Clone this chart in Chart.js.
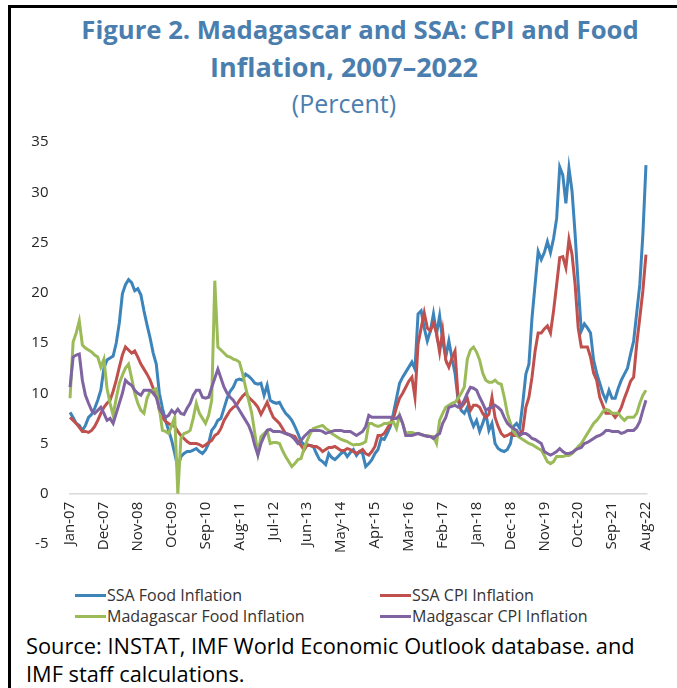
<!DOCTYPE html>
<html>
<head>
<meta charset="utf-8">
<script src="https://cdn.jsdelivr.net/npm/chart.js@4.4.1/dist/chart.umd.min.js"></script>
<style>
  html, body { margin: 0; padding: 0; background: #fff; }
  #page { position: relative; width: 677px; height: 688px; overflow: hidden; font-family: "Open Sans", sans-serif; }
  #frame { position: absolute; left: 8px; top: 5px; right: -5px; bottom: -5px; border-top: 3px solid #000; border-left: 3px solid #000; }
  .title { position: absolute; left: 11px; right: 0; text-align: center; color: #4a7eae; white-space: nowrap; }
  #t1 { top: 12px; left: 43px; font-size: 25.7px; font-weight: 700; }
  #t2 { top: 48px; font-size: 27px; font-weight: 700; }
  #t3 { top: 86px; font-size: 25px; }
  #chartBox { position: absolute; left: 0; top: 113px; width: 677px; height: 467px; }
  #legend { position: absolute; left: 75px; top: 585px; display: grid; grid-template-columns: 305px 260px; row-gap: 1px; font-size: 16px; color: #333; }
  .item { display: flex; align-items: center; height: 20px; white-space: nowrap; }
  .swatch { width: 31px; height: 3px; margin-right: 1px; }
  #source { position: absolute; left: 26px; top: 632px; font-size: 21.8px; line-height: 28px; color: #000; white-space: nowrap; }
</style>
</head>
<body>
<div id="page">
  <div id="frame"></div>
  <div class="title" id="t1">Figure 2. Madagascar and SSA: CPI and Food</div>
  <div class="title" id="t2">Inflation, 2007–2022</div>
  <div class="title" id="t3">(Percent)</div>
  <div id="chartBox"><canvas id="chart" width="677" height="467"></canvas></div>
  <div id="legend"></div>
  <div id="source">Source: INSTAT, IMF World Economic Outlook database. and<br>IMF staff calculations.</div>
</div>
<script>
// monthly, Jan-2007 .. Aug-2022
const monthNames = ['Jan', 'Feb', 'Mar', 'Apr', 'May', 'Jun', 'Jul', 'Aug', 'Sep', 'Oct', 'Nov', 'Dec'];
const firstYear = 7, lastYear = 22, lastMonth = 8;
const labelEvery = 11;

const ssaFood = [
  8.1, 7.6, 7.0, 6.8, 6.3, 6.8, 7.6, 7.9, 8.5, 9.3, 10.3, 12.5,
  13.3, 13.5, 13.7, 15.0, 17.0, 19.9, 20.8, 21.3, 21.0, 20.2, 20.4, 19.8,
  18.2, 16.8, 15.5, 14.0, 12.9, 10.0, 8.5, 7.3, 6.3, 5.3, 4.0, 2.6,
  3.7, 4.0, 4.2, 4.2, 4.35, 4.5, 4.2, 4.0, 4.35, 5.0, 6.3, 6.7,
  7.3, 7.5, 8.5, 9.5, 10.2, 10.6, 11.3, 11.4, 11.3, 11.9, 11.7, 11.4,
  11.0, 10.9, 11.0, 9.8, 10.8, 9.3, 9.1, 9.0, 9.1, 8.5, 8.0, 7.7,
  7.3, 6.7, 6.0, 5.2, 4.9, 4.85, 4.8, 4.7, 4.0, 3.4, 3.2, 2.9,
  4.0, 3.6, 3.4, 3.7, 4.0, 4.2, 3.7, 4.1, 4.4, 3.8, 4.2, 4.0,
  2.7, 3.0, 3.4, 4.0, 4.4, 5.5, 5.4, 6.0, 6.7, 8.0, 9.5, 11.0,
  11.6, 12.1, 12.6, 13.1, 12.4, 17.9, 18.2, 16.5, 15.2, 16.2, 17.9, 15.9,
  17.7, 15.2, 13.6, 15.2, 13.5, 12.0, 9.3, 8.3, 8.0, 8.6, 7.5, 6.7,
  7.3, 6.2, 7.0, 8.0, 6.3, 7.0, 5.0, 4.5, 4.3, 4.2, 4.4, 5.0,
  6.7, 7.0, 6.5, 9.0, 11.9, 12.9, 17.5, 20.8, 24.1, 23.3, 24.0, 25.1,
  24.0, 25.4, 27.4, 32.5, 31.7, 28.9, 32.4, 30.1, 25.8, 20.8, 16.2, 16.9,
  16.5, 16.0, 13.3, 12.0, 11.0, 10.0, 9.3, 10.3, 9.5, 9.5, 10.5, 11.3,
  11.9, 12.5, 13.9, 15.2, 18.0, 20.8, 25.8, 32.7
];

const ssaCpi = [
  7.6, 7.3, 7.0, 6.6, 6.2, 6.2, 6.1, 6.3, 6.7, 7.3, 8.0, 8.6,
  9.0, 9.3, 10.2, 11.3, 12.6, 13.8, 14.6, 14.3, 14.0, 14.2, 13.6, 12.9,
  12.4, 11.9, 11.3, 10.5, 10.0, 8.3, 7.6, 7.2, 7.0, 6.8, 6.7, 6.2,
  5.8, 5.5, 5.2, 5.0, 5.0, 5.0, 4.9, 4.7, 4.85, 5.1, 5.3, 5.8,
  6.0, 6.5, 7.3, 7.8, 8.3, 8.6, 8.8, 9.3, 9.7, 10.0, 9.6, 9.3,
  9.0, 8.6, 7.9, 8.5, 9.1, 8.3, 7.6, 7.3, 7.0, 6.5, 6.0, 5.9,
  5.8, 5.7, 5.2, 4.8, 4.35, 4.85, 4.8, 4.7, 4.7, 4.5, 4.2, 4.4,
  4.6, 4.6, 4.7, 4.5, 4.3, 4.3, 4.5, 4.4, 4.2, 4.0, 4.2, 4.4,
  4.0, 3.85, 4.2, 4.7, 5.8, 5.8, 6.0, 6.5, 7.0, 7.5, 8.6, 9.5,
  10.0, 10.6, 11.2, 11.6, 9.6, 14.9, 16.5, 18.0, 16.5, 16.2, 17.0, 16.0,
  14.1, 16.2, 13.3, 12.6, 13.5, 14.2, 9.6, 8.6, 9.0, 9.5, 8.3, 8.8,
  8.8, 8.6, 8.0, 7.6, 7.9, 9.6, 7.6, 6.7, 6.0, 5.7, 5.8, 6.0,
  5.8, 5.8, 6.0, 6.3, 8.6, 9.6, 11.6, 14.2, 16.0, 16.0, 16.4, 16.7,
  16.0, 18.2, 20.8, 23.5, 23.6, 22.5, 25.3, 23.8, 20.8, 16.5, 14.6, 14.6,
  14.6, 13.6, 12.0, 11.3, 9.6, 8.8, 8.0, 8.0, 8.0, 7.6, 8.0, 8.6,
  9.5, 10.3, 11.2, 11.6, 14.9, 17.5, 20.2, 23.8
];

const madFood = [
  9.5, 15.1, 16.0, 17.2, 14.8, 14.5, 14.3, 14.1, 13.8, 13.6, 12.6, 13.4,
  10.5, 9.0, 7.8, 9.5, 11.0, 11.8, 12.5, 12.9, 11.5, 10.0, 9.0, 8.3,
  8.0, 9.5, 10.2, 10.3, 10.45, 8.5, 6.3, 6.2, 6.0, 6.8, 7.6, 0.0,
  5.5, 6.0, 6.1, 6.3, 7.5, 9.0, 8.0, 7.5, 7.0, 7.8, 9.3, 21.2,
  14.6, 14.3, 14.0, 13.7, 13.6, 13.4, 13.3, 13.1, 12.0, 10.6, 9.3, 8.0,
  6.0, 4.0, 5.7, 6.0, 6.3, 5.0, 5.1, 5.1, 5.0, 4.3, 3.7, 3.2,
  2.7, 3.0, 3.4, 3.5, 4.5, 5.3, 6.0, 6.5, 6.6, 6.7, 6.8, 6.5,
  6.3, 6.0, 5.8, 5.6, 5.4, 5.3, 5.2, 5.0, 4.85, 4.9, 4.9, 5.0,
  5.2, 7.0, 7.0, 6.8, 6.7, 6.8, 7.0, 7.0, 7.1, 7.15, 6.5, 7.8,
  7.0, 6.0, 6.1, 6.1, 6.0, 6.0, 5.9, 5.8, 5.8, 5.7, 5.7, 5.0,
  7.3, 8.0, 8.6, 8.8, 9.0, 9.1, 9.5, 10.0, 10.6, 13.4, 14.3, 14.6,
  14.1, 13.3, 12.0, 11.3, 11.1, 11.1, 11.3, 11.0, 10.9, 9.6, 8.0, 7.0,
  6.2, 5.8, 5.6, 5.4, 5.2, 5.0, 4.9, 4.7, 4.5, 4.35, 3.8, 3.2,
  3.0, 3.2, 3.7, 3.7, 3.7, 3.8, 3.8, 4.0, 4.3, 4.7, 5.0, 5.5,
  6.0, 6.5, 7.0, 7.3, 7.7, 8.15, 8.4, 8.3, 8.0, 8.0, 8.0, 7.6,
  7.3, 7.6, 7.6, 7.6, 8.0, 9.0, 9.8, 10.3
];

const madCpi = [
  10.6, 13.6, 13.8, 13.9, 11.3, 9.8, 9.0, 8.3, 8.0, 8.3, 8.6, 8.0,
  7.3, 7.5, 7.0, 8.0, 9.0, 10.0, 11.3, 11.0, 10.8, 10.3, 10.0, 9.8,
  10.3, 10.3, 10.3, 10.0, 9.6, 8.5, 8.0, 7.6, 7.8, 8.3, 8.0, 8.4,
  8.0, 7.9, 8.5, 9.0, 9.8, 10.3, 10.3, 9.6, 9.5, 9.6, 10.6, 11.5,
  12.4, 11.5, 10.6, 10.0, 9.6, 9.3, 8.8, 8.3, 7.8, 7.3, 6.8, 6.0,
  4.8, 3.85, 5.0, 5.7, 6.3, 6.4, 6.2, 6.2, 6.2, 6.1, 6.0, 5.9,
  5.7, 5.4, 5.0, 5.3, 5.7, 6.0, 6.3, 6.3, 6.3, 6.3, 6.2, 6.0,
  6.1, 6.2, 6.3, 6.3, 6.3, 6.2, 6.2, 6.2, 6.0, 5.8, 6.0, 6.2,
  6.7, 7.8, 7.6, 7.6, 7.6, 7.6, 7.6, 7.6, 7.6, 7.5, 7.5, 7.8,
  7.0, 5.8, 5.8, 5.8, 5.9, 6.0, 5.9, 5.8, 5.7, 5.7, 5.5, 5.8,
  6.0, 7.0, 7.6, 8.6, 8.7, 8.8, 8.6, 8.8, 9.3, 10.0, 10.6, 10.5,
  10.3, 9.6, 9.0, 8.3, 8.5, 8.6, 8.8, 8.6, 8.3, 7.6, 7.0, 6.7,
  6.5, 6.3, 5.8, 6.0, 6.0, 5.8, 5.5, 5.4, 5.2, 5.0, 4.2, 4.0,
  3.85, 4.0, 4.2, 4.5, 4.2, 4.0, 4.0, 4.1, 4.35, 4.5, 4.6, 5.0,
  5.1, 5.3, 5.5, 5.7, 5.8, 6.0, 6.3, 6.3, 6.2, 6.2, 6.2, 6.0,
  6.1, 6.3, 6.3, 6.3, 6.6, 7.2, 8.3, 9.3
];

const seriesNames = ['SSA Food Inflation', 'SSA CPI Inflation', 'Madagascar Food Inflation', 'Madgascar CPI Inflation'];
const seriesColors = ['#3d84bb', '#c0504d', '#9bbb59', '#8064a2'];

const months = [];
for (let y = firstYear; y <= lastYear; y++) {
  const stop = y === lastYear ? lastMonth : 12;
  for (let m = 0; m < stop; m++) {
    months.push(monthNames[m] + '-' + String(y).padStart(2, '0'));
  }
}

const textColor = '#262626';

// legend is drawn as html so the two columns line up like the original
const htmlLegend = {
  id: 'htmlLegend',
  afterUpdate(chart) {
    const box = document.getElementById('legend');
    box.innerHTML = '';
    chart.data.datasets.forEach(ds => {
      const item = document.createElement('div');
      item.className = 'item';
      const sw = document.createElement('span');
      sw.className = 'swatch';
      sw.style.background = ds.borderColor;
      const txt = document.createElement('span');
      txt.textContent = ds.label;
      item.appendChild(sw);
      item.appendChild(txt);
      box.appendChild(item);
    });
  }
};

const allSeries = [ssaFood, ssaCpi, madFood, madCpi];

new Chart(document.getElementById('chart'), {
  type: 'line',
  data: {
    labels: months,
    datasets: allSeries.map((values, i) => ({
      label: seriesNames[i],
      data: values,
      borderColor: seriesColors[i],
      backgroundColor: seriesColors[i],
      borderWidth: 3,
      pointRadius: 0,
      tension: 0,
      order: allSeries.length - i
    }))
  },
  options: {
    responsive: false,
    animation: false,
    layout: { padding: { top: 12, left: 10, right: 29.5, bottom: 36 } },
    plugins: {
      legend: { display: false },
      tooltip: { enabled: false }
    },
    scales: {
      x: {
        type: 'category',
        position: { y: 0 },
        offset: true,
        grid: { display: false, drawTicks: false },
        border: { display: false },
        ticks: {
          autoSkip: false,
          maxRotation: 90,
          minRotation: 90,
          padding: 8,
          color: textColor,
          font: { family: '"Open Sans", sans-serif', size: 15 },
          callback(value, index) {
            return index % labelEvery === 0 ? this.getLabelForValue(value) : '';
          }
        }
      },
      y: {
        min: -5,
        max: 35,
        afterFit(scale) { scale.width = 58.5; },
        grid: {
          drawTicks: false,
          color: ctx => (ctx.tick && ctx.tick.value === 0 ? '#d9d9d9' : 'rgba(0,0,0,0)'),
          lineWidth: 1.5
        },
        border: { display: false },
        ticks: {
          stepSize: 5,
          padding: 20,
          color: textColor,
          font: { family: '"Open Sans", sans-serif', size: 15 }
        }
      }
    }
  },
  plugins: [htmlLegend]
});
</script>
</body>
</html>
